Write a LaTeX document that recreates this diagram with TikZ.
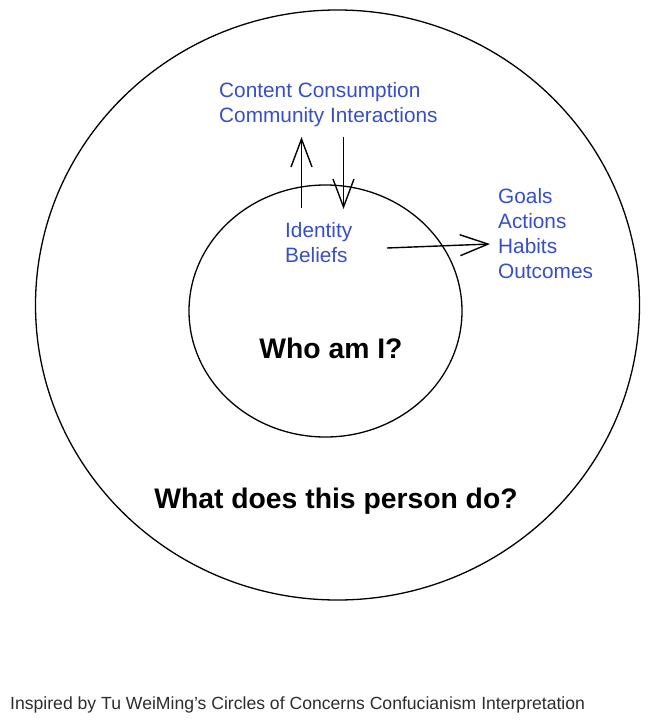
\documentclass[tikz,border=0pt]{standalone}
\usepackage{fontspec}
\setmainfont{Liberation Sans}
\usetikzlibrary{arrows.meta}
\definecolor{sketchblue}{RGB}{54,79,199}
\definecolor{footgray}{RGB}{45,45,45}
\tikzset{
  ring/.style={draw=black, line width=1.3pt},
  bluetxt/.style={anchor=base west, inner sep=0pt, text=sketchblue, font=\fontsize{20.8}{25}\selectfont},
  bigtxt/.style={anchor=base, inner sep=0pt, text=black, font=\bfseries\fontsize{28.3}{34}\selectfont},
  foottxt/.style={anchor=base west, inner sep=0pt, text=footgray, font=\fontsize{17.6}{20}\selectfont},
  sketcharrow/.style={draw=black, line width=1.4pt, -{Straight Barb[length=28pt,width=21pt]}}
}
\begin{document}
\begin{tikzpicture}[x=1pt,y=-1pt]
\useasboundingbox (0,0) rectangle (648,725);
\fill[white] (0,0) rectangle (648,725);
% circles
\draw[ring] (337.5,305) ellipse [x radius=302, y radius=295];
\draw[ring] (325.5,311) ellipse [x radius=136.5, y radius=126];
% texts
\node[bluetxt] (cc) at (219,97) {Content Consumption};
\node[bluetxt] (ci) at (219,122) {Community Interactions};
\node[bluetxt] (id) at (285,237) {Identity};
\node[bluetxt] (be) at (285,262) {Beliefs};
\node[bluetxt] (go) at (498,203) {Goals};
\node[bluetxt] (ac) at (498,228) {Actions};
\node[bluetxt] (ha) at (498,253) {Habits};
\node[bluetxt] (ou) at (498,278) {Outcomes};
\node[bigtxt] (who) at (331,358) {Who am I?};
\node[bigtxt] (what) at (336,508) {What does this person do?};
\node[foottxt] (foot) at (10,709) {Inspired by Tu WeiMing's Circles of Concerns Confucianism Interpretation};
% arrow endpoints
\coordinate (upS) at (301.5,208);
\coordinate (upE) at (301.5,137);
\coordinate (dnS) at (343.5,137);
\coordinate (dnE) at (343.5,209);
\coordinate (rtS) at (387,248);
\coordinate (rtE) at (490,244);
\draw[sketcharrow] (upS) -- (upE);
\draw[sketcharrow] (dnS) -- (dnE);
\draw[sketcharrow] (rtS) -- (rtE);
\end{tikzpicture}
\end{document}
